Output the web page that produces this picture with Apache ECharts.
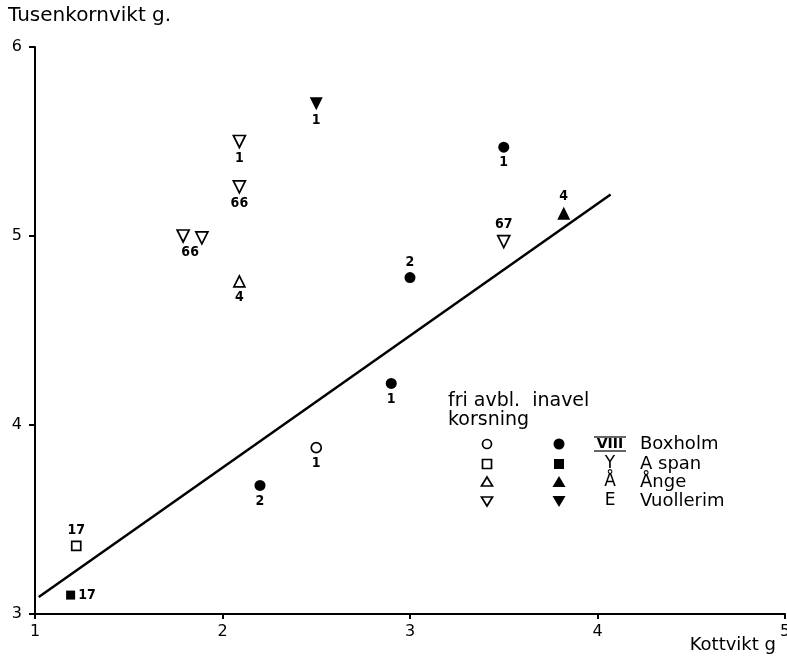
<!DOCTYPE html>
<html>
<head>
<meta charset="utf-8">
<script src="https://cdn.jsdelivr.net/npm/echarts@6/dist/echarts.min.js"></script>
<style>
  html, body { margin: 0; padding: 0; background: #fff; }
  #chart { width: 787px; height: 658px; }
</style>
</head>
<body>
<div id="chart"></div>
<script>
// Kottvikt (g) vs tusenkornvikt (g); each point: [kottvikt, tusenkornvikt, label]
const boxholmFri    = [[2.5, 3.88, '1']];
const boxholmInavel = [[2.2, 3.68, '2'], [2.9, 4.22, '1'], [3.0, 4.78, '2'], [3.5, 5.47, '1']];
const aspanFri      = [[1.22, 3.36, '17']];
const aspanInavel   = [[1.19, 3.10, '17']];
const angeFri       = [[2.09, 4.76, '4']];
const angeInavel    = [[3.82, 5.12, '4']];
const vuollFri      = [[2.09, 5.50, '1'], [2.09, 5.26, '66'], [1.79, 5.00, '66'], [1.89, 4.99, ''], [3.5, 4.97, '67']];
const vuollInavel   = [[2.5, 5.70, '1']];

// Regression line end points
const fitX = [1.02, 4.07];
const fitY = [3.09, 5.22];

const xTicks = [1, 2, 3, 4, 5];
const yTicks = [3, 4, 5, 6];

const xTitle = 'Kottvikt g';
const yTitle = 'Tusenkornvikt g.';

const legendHead = ['fri avbl.', 'inavel', 'korsning'];
const legendCodes = ['VIII', 'Y', 'Å', 'E'];
const legendNames = ['Boxholm', 'A span', 'Ånge', 'Vuollerim'];

const FONT = 'DejaVu Sans';
const NUMFONT = 'DejaVu Sans Condensed';

// label placement per point (same order as the data above)
const place = {
  boxholmFri: ['bottom'],
  boxholmInavel: ['bottom', 'bottom', 'top', 'bottom'],
  aspanFri: ['top'],
  aspanInavel: ['right'],
  angeFri: ['bottom'],
  angeInavel: ['top'],
  vuollFri: ['bottom', 'bottom', 'bottom', 'bottom', 'top'],
  vuollInavel: ['bottom']
};
const offsets = { vuollFri: [[0,0],[0,0],[7,0],[0,0],[0,0]] };

function pts(arr, key) {
  return arr.map((p, i) => ({
    value: [p[0], p[1]],
    label: {
      show: p[2] !== '',
      formatter: p[2],
      position: place[key][i],
      distance: 3,
      offset: offsets[key] ? offsets[key][i] : [0, 0]
    }
  }));
}

const openStyle = { color: '#fff', borderColor: '#000', borderWidth: 1.7, opacity: 1 };
const fillStyle = { color: '#000', borderColor: '#000', borderWidth: 0, opacity: 1 };

function scatter(name, arr, key, symbol, size, style, rotate) {
  return {
    name, type: 'scatter', data: pts(arr, key),
    symbol, symbolSize: size, symbolRotate: rotate || 0,
    itemStyle: style,
    label: { color: '#000', fontFamily: NUMFONT, fontSize: 14, fontWeight: 'bold' },
    emphasis: { disabled: true },
    z: 5
  };
}

const chart = echarts.init(document.getElementById('chart'), null, { renderer: 'canvas' });

// axis titles
const g = [];
g.push({ type: 'text', x: 8, y: 16, style: { text: yTitle, font: '20px ' + FONT, fill: '#000', align: 'left', verticalAlign: 'middle' } });
g.push({ type: 'text', x: 776, y: 645, style: { text: xTitle, font: '18px ' + FONT, fill: '#000', align: 'right', verticalAlign: 'middle' } });

// legend block (symbols table)
const lx0 = 487, lx1 = 559, lcode = 610, lname = 640;
const rows = [444, 464, 482, 501];
g.push({ type: 'text', x: 448, y: 401, style: { text: legendHead[0] + '  ' + legendHead[1], font: '19px ' + FONT, fill: '#000', verticalAlign: 'middle' } });
g.push({ type: 'text', x: 448, y: 420, style: { text: legendHead[2], font: '19px ' + FONT, fill: '#000', verticalAlign: 'middle' } });
// row 1: circles
g.push({ type: 'circle', shape: { cx: lx0, cy: rows[0], r: 4.5 }, style: { fill: '#fff', stroke: '#000', lineWidth: 1.7 } });
g.push({ type: 'circle', shape: { cx: lx1, cy: rows[0], r: 5.5 }, style: { fill: '#000' } });
// row 2: squares
g.push({ type: 'rect', shape: { x: lx0 - 4.5, y: rows[1] - 4.5, width: 9, height: 9 }, style: { fill: '#fff', stroke: '#000', lineWidth: 1.7 } });
g.push({ type: 'rect', shape: { x: lx1 - 5, y: rows[1] - 5, width: 10, height: 10 }, style: { fill: '#000' } });
// row 3: triangles up
g.push({ type: 'polygon', shape: { points: [[lx0, rows[2] - 5], [lx0 + 5.5, rows[2] + 4], [lx0 - 5.5, rows[2] + 4]] }, style: { fill: '#fff', stroke: '#000', lineWidth: 1.7 } });
g.push({ type: 'polygon', shape: { points: [[lx1, rows[2] - 6], [lx1 + 6.5, rows[2] + 5], [lx1 - 6.5, rows[2] + 5]] }, style: { fill: '#000' } });
// row 4: triangles down
g.push({ type: 'polygon', shape: { points: [[lx0, rows[3] + 5], [lx0 + 5.5, rows[3] - 4], [lx0 - 5.5, rows[3] - 4]] }, style: { fill: '#fff', stroke: '#000', lineWidth: 1.7 } });
g.push({ type: 'polygon', shape: { points: [[lx1, rows[3] + 6], [lx1 + 6.5, rows[3] - 5], [lx1 - 6.5, rows[3] - 5]] }, style: { fill: '#000' } });
legendCodes.forEach((c, i) => {
  g.push({ type: 'text', x: lcode, y: rows[i], style: { text: c, font: (i === 0 ? 'bold 14px ' : '17px ') + FONT, fill: '#000', align: 'center', verticalAlign: 'middle' } });
});
// bars over/under VIII
g.push({ type: 'line', shape: { x1: lcode - 16, y1: rows[0] - 7, x2: lcode + 16, y2: rows[0] - 7 }, style: { stroke: '#000', lineWidth: 1.2 } });
g.push({ type: 'line', shape: { x1: lcode - 16, y1: rows[0] + 7, x2: lcode + 16, y2: rows[0] + 7 }, style: { stroke: '#000', lineWidth: 1.2 } });
legendNames.forEach((n, i) => {
  g.push({ type: 'text', x: lname, y: rows[i], style: { text: n, font: '18px ' + FONT, fill: '#000', align: 'left', verticalAlign: 'middle' } });
});

chart.setOption({
  animation: false,
  backgroundColor: '#fff',
  grid: { left: 35, right: 2, top: 47, bottom: 44, containLabel: false, outerBoundsMode: 'none' },
  xAxis: {
    type: 'value', min: xTicks[0], max: xTicks[xTicks.length - 1], interval: 1,
    axisLine: { lineStyle: { color: '#000', width: 2 } },
    axisTick: { show: true, length: 5, lineStyle: { color: '#000', width: 2 } },
    axisLabel: { color: '#000', fontFamily: FONT, fontSize: 16, margin: 10 },
    splitLine: { show: false }
  },
  yAxis: {
    type: 'value', min: yTicks[0], max: yTicks[yTicks.length - 1], interval: 1,
    axisLine: { lineStyle: { color: '#000', width: 2 } },
    axisTick: { show: true, length: 6, lineStyle: { color: '#000', width: 2 } },
    axisLabel: { color: '#000', fontFamily: FONT, fontSize: 16, margin: 13 },
    splitLine: { show: false }
  },
  graphic: g,
  series: [
    {
      type: 'line', data: fitX.map((x, i) => [x, fitY[i]]),
      symbol: 'none', lineStyle: { color: '#000', width: 2.5 }, z: 3, silent: true
    },
    scatter('Boxholm fri', boxholmFri, 'boxholmFri', 'circle', 10, openStyle),
    scatter('Boxholm inavel', boxholmInavel, 'boxholmInavel', 'circle', 11, fillStyle),
    scatter('Aspan fri', aspanFri, 'aspanFri', 'rect', 9, openStyle),
    scatter('Aspan inavel', aspanInavel, 'aspanInavel', 'rect', 9, fillStyle),
    scatter('Ånge fri', angeFri, 'angeFri', 'triangle', 11, openStyle),
    scatter('Ånge inavel', angeInavel, 'angeInavel', 'triangle', 13, fillStyle),
    scatter('Vuollerim fri', vuollFri, 'vuollFri', 'triangle', 12, openStyle, 180),
    scatter('Vuollerim inavel', vuollInavel, 'vuollInavel', 'triangle', 13, fillStyle, 180)
  ]
});
</script>
</body>
</html>
